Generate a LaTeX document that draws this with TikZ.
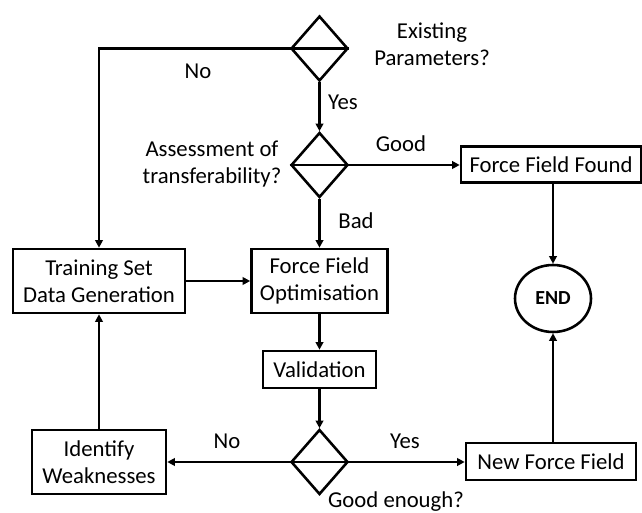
\documentclass[tikz,border=0pt]{standalone}
\usepackage{fontspec}
\setmainfont{Carlito}
\usetikzlibrary{arrows.meta,shapes.geometric}

\tikzset{
  txt/.style={font=\fontsize{19.4}{23}\selectfont, align=center, inner sep=0pt},
  box/.style={txt, draw, line width=2.2pt},
  decision/.style={draw, diamond, line width=2.2pt, inner sep=0pt,
    minimum width=1.71cm, minimum height=1.95cm},
  arr/.style={line width=2pt, -{Triangle[length=6.5pt,width=6.5pt]}},
}

\begin{document}
\begin{tikzpicture}[x=0.03cm, y=-0.03cm]
  \useasboundingbox (0,0) rectangle (642,513);

  % decisions
  \node[decision] (d1) at (319.5,48.5) {};
  \node[decision] (d2) at (319.5,165) {};
  \node[decision] (d3) at (319.5,462) {};
  \foreach \d in {d1,d2,d3}
    \draw[line width=2.2pt] (\d.west) -- (\d.east);

  % boxes
  \node[box, minimum width=5.16cm, minimum height=1.92cm] (train) at (99,281) {Training Set\\Data Generation};
  \node[box, minimum width=4.08cm, minimum height=1.92cm] (opt) at (319.5,281) {Force Field\\Optimisation};
  \node[box, minimum width=3.39cm, minimum height=1.11cm] (valid) at (319.5,369.5) {Validation};
  \node[box, minimum width=5.40cm, minimum height=1.08cm] (found) at (551,164.5) {Force Field Found};
  \node[box, minimum width=4.02cm, minimum height=1.92cm] (weak) at (99,462) {Identify\\Weaknesses};
  \node[box, minimum width=5.10cm, minimum height=1.11cm] (newff) at (551,461.5) {New Force Field};
  \node[draw, ellipse, line width=2.2pt, inner sep=0pt, minimum width=2.28cm, minimum height=2.01cm,
    font=\fontsize{17}{20}\selectfont\bfseries] (end) at (553,298.5) {END};

  % connectors
  \draw[arr] (d1.west) -| (train.north);
  \draw[arr] (d1.south) -- (d2.north);
  \draw[arr] (d2.east) -- (found.west |- d2.east);
  \draw[arr] (d2.south) -- (opt.north);
  \draw[arr] (train.east) -- (opt.west);
  \draw[arr] (opt.south) -- (valid.north);
  \draw[arr] (valid.south) -- (d3.north);
  \draw[arr] (d3.west) -- (weak.east |- d3.west);
  \draw[arr] (d3.east) -- (newff.west |- d3.east);
  \draw[arr] (weak.north) -- (train.south);
  \draw[arr] (found.south -| end.north) -- (end.north);
  \draw[arr] (newff.north -| end.south) -- (end.south);

  % labels
  \node[txt] (qExist) at (432,44) {Existing\\Parameters?};
  \node[txt] (qAssess) at (212,164) {Assessment of\\transferability?};
  \node[txt] (qGood) at (396,502) {Good enough?};
  \node[txt] (lNoTop) at (198,71) {No};
  \node[txt] (lYesTop) at (343,102) {Yes};
  \node[txt] (lGood) at (401,144) {Good};
  \node[txt] (lBad) at (356,221) {Bad};
  \node[txt] (lNoBot) at (227,441) {No};
  \node[txt] (lYesBot) at (405,441) {Yes};
\end{tikzpicture}
\end{document}
